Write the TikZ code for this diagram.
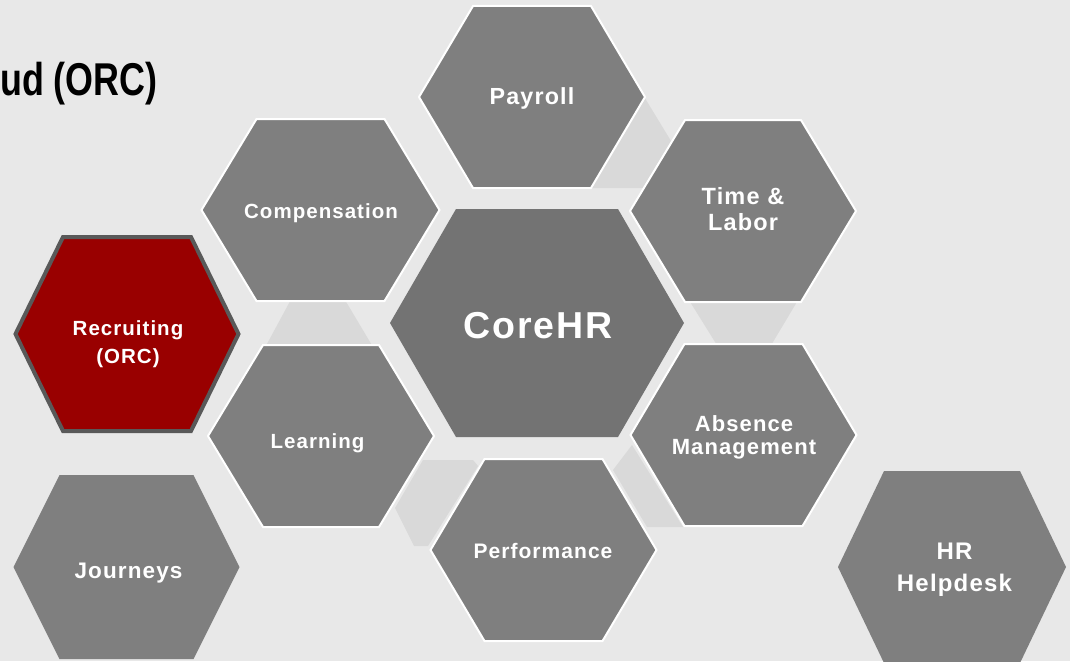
\documentclass[tikz,border=0pt]{standalone}
\usepackage{fontspec}
\usepackage{graphicx}
\setmainfont{Liberation Sans}
\newfontfamily\cellfont[LetterSpace=5]{Liberation Sans}
\usetikzlibrary{calc}

\definecolor{bgcol}{HTML}{E8E8E8}
\definecolor{hexgray}{HTML}{7F7F7F}
\definecolor{coregray}{HTML}{737373}
\definecolor{linkgray}{HTML}{D9D9D9}
\definecolor{recruitred}{HTML}{990000}
\definecolor{rimgray}{HTML}{595959}

% hexagon with flat top: style, centre, radius, half height, half top edge
\newcommand{\hexcell}[5]{%
  \path[#1] ($(#2)+(-#3,0)$) -- ++({#3-#5},{-#4}) -- ++({2*#5},0)
    -- ++({#3-#5},{#4}) -- ++({#5-#3},{#4}) -- ++({-2*#5},0) -- cycle;}

\tikzset{
  cell/.style={fill=hexgray,draw=white,line width=2pt},
  plaincell/.style={fill=hexgray},
  corecell/.style={fill=coregray},
  redcell/.style={fill=recruitred,draw=rimgray,line width=4pt},
  link/.style={fill=linkgray},
  celltext/.style={text=white,inner sep=0pt,align=center},
  cellsize/.style 2 args={font=\cellfont\bfseries\fontsize{#1}{#2}\selectfont},
}

\begin{document}
\begin{tikzpicture}[x=1pt,y=-1pt]
  \path[use as bounding box] (0,0) rectangle (1070,661);
  \fill[bgcol] (0,0) rectangle (1070,661);

  % centres of the cells
  \coordinate (cPay) at (532,97);
  \coordinate (cComp) at (320.5,210);
  \coordinate (cTime) at (743,211);
  \coordinate (cCore) at (537,323);
  \coordinate (cRec) at (127,334);
  \coordinate (cLearn) at (321,436);
  \coordinate (cAbs) at (743.5,435);
  \coordinate (cPerf) at (543.5,550);
  \coordinate (cJour) at (126.5,567);
  \coordinate (cHelp) at (952,567);

  % light bridges between neighbouring cells
  \path[link] (640,90) -- (671,141) -- (643,188) -- (585,188) -- cycle;
  \path[link] (290.7,300) -- (345,300) -- (371.8,345) -- (266.4,345) -- cycle;
  \path[link] (688.9,300) -- (798.1,300) -- (771.2,345) -- (716.9,345) -- cycle;
  \path[link] (423,460) -- (473,460) -- (478,466) -- (428,546) -- (414,546) -- (395,508) -- cycle;
  \path[link] (613,470) -- (632,445) -- (683,527) -- (647,527) -- cycle;

  \hexcell{cell}{cPay}{113}{91}{59}
  \hexcell{cell}{cComp}{119}{91}{64}
  \hexcell{cell}{cTime}{113}{91}{58}
  \hexcell{cell}{cLearn}{113}{91}{58}
  \hexcell{cell}{cAbs}{113}{91}{59}
  \hexcell{cell}{cPerf}{113}{91}{59}
  \hexcell{plaincell}{cJour}{113}{92}{67}
  \hexcell{plaincell}{cHelp}{114}{96}{68}
  \hexcell{corecell}{cCore}{147}{114}{81}
  \hexcell{redcell}{cRec}{111.5}{97}{64}

  \node[anchor=base west,inner sep=0pt,font=\bfseries\fontsize{46}{50}\selectfont] (title) at (0,95) {\scalebox{0.78}[1]{ud (ORC)}};

  \node[celltext,cellsize={23.3}{26},anchor=base] (payroll) at (532,104) {Payroll};
  \node[celltext,cellsize={20.5}{24},anchor=base] (compensation) at (321,218) {Compensation};
  \node[celltext,cellsize={23.5}{26}] (timelabor) at (743,209.5) {Time \&\\Labor};
  \node[celltext,cellsize={37.5}{40},anchor=base] (corehr) at (538,338) {CoreHR};
  \node[celltext,cellsize={20.5}{28}] (recruiting) at (128,343.7) {Recruiting\\(ORC)};
  \node[celltext,cellsize={20.5}{24},anchor=base] (learning) at (317.5,448) {Learning};
  \node[celltext,cellsize={22}{23}] (absence) at (744,437.8) {Absence\\Management};
  \node[celltext,cellsize={21}{24},anchor=base] (performance) at (543,558) {Performance};
  \node[celltext,cellsize={22.5}{26},anchor=base] (journeys) at (128.5,578) {Journeys};
  \node[celltext,cellsize={24}{32}] (helpdesk) at (954.5,569.8) {HR\\Helpdesk};
\end{tikzpicture}
\end{document}
